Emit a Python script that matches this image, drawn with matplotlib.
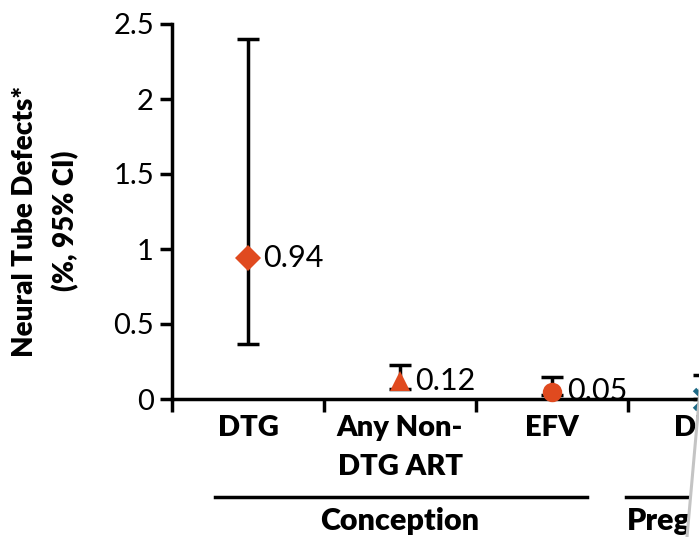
import matplotlib.pyplot as plt
import matplotlib.transforms as mtransforms
from matplotlib.lines import Line2D
from matplotlib.patches import Polygon

plt.rcParams['font.family'] = ['Lato', 'DejaVu Sans']

# data
groups = ['DTG', 'Any Non-\nDTG ART', 'EFV', 'DTG']
values = [0.94, 0.12, 0.05, 0.0]
ci_low = [0.37, 0.07, 0.03, 0.0]
ci_high = [2.4, 0.23, 0.15, 0.16]
labels = ['0.94', '0.12', '0.05', '']
markers = ['D', '^', 'o', 'x']
colors = ['#E04A1F', '#E04A1F', '#E04A1F', '#1D6A86']
periods = ['Conception', 'Pregnancy']

W, H = 699, 537
fig = plt.figure(figsize=(W / 100, H / 100), dpi=100)
cat_w = 152.0
ax = fig.add_axes([172 / W, 138 / H, (W - 172) / W, 375 / H])
ax.set_xlim(0, (W - 172) / cat_w)
ax.set_ylim(0, 2.5)

xs = [i + 0.5 for i in range(len(groups))]
for x, v, lo, hi, m, c, lab in zip(xs, values, ci_low, ci_high, markers, colors, labels):
    ax.errorbar(x, v, yerr=[[v - lo], [hi - v]], fmt='none', ecolor='black',
                elinewidth=2.5, capsize=8, capthick=2.5, zorder=2, clip_on=False)
    ms = {'D': 13, '^': 15, 'o': 14, 'x': 14}[m]
    ax.plot(x, v, marker=m, color=c, markersize=ms, mew=3.5 if m == 'x' else 0,
            linestyle='none', zorder=3, clip_on=False)
    if lab:
        ax.text(x + 0.1, v, lab, fontsize=22, va='center', ha='left')

for s in ['top', 'right']:
    ax.spines[s].set_visible(False)
for s in ['left', 'bottom']:
    ax.spines[s].set_linewidth(2.5)

ax.set_yticks([0, 0.5, 1, 1.5, 2, 2.5])
ax.set_yticklabels(['0', '0.5', '1', '1.5', '2', '2.5'])
ax.set_xticks(range(len(groups)))
ax.set_xticklabels([])
ax.tick_params(axis='y', labelsize=21, length=9, width=2.5, pad=4)
ax.tick_params(axis='x', length=9, width=2.5, direction='out')

ax.set_ylabel('Neural Tube Defects*\n(%, 95% CI)', fontsize=20, fontweight='heavy',
              linespacing=1.6)
ax.yaxis.set_label_coords((79 - 172) / (W - 172), (399 - 221) / 375)

tr = mtransforms.blended_transform_factory(ax.transData, fig.transFigure)
for x, g in zip(xs, groups):
    ax.text(x, (H - 415) / H, g, transform=tr, ha='center', va='top', fontsize=21,
            fontweight='heavy', linespacing=1.6, clip_on=False)

# period brackets
line_y = (H - 497) / H
fig.add_artist(Line2D([0.283, 2.73], [line_y, line_y], transform=tr, color='black', lw=2.5))
fig.add_artist(Line2D([2.99, 4.0], [line_y, line_y], transform=tr, color='black', lw=2.5))
ax.text(1.5, (H - 521) / H, periods[0], transform=tr, ha='center', va='center',
        fontsize=22, fontweight='heavy', clip_on=False)
ax.text(2.99, (H - 521) / H, periods[1], transform=tr, ha='left', va='center',
        fontsize=22, fontweight='heavy', clip_on=False)

# slide edge seen in the crop: white beyond it, grey border line
fig.add_artist(Polygon([[700 / W, (H - 390) / H], [687 / W, 0], [1, 0], [1, (H - 390) / H]],
                       closed=True, transform=fig.transFigure, facecolor='white',
                       edgecolor='none', zorder=10))
fig.add_artist(Line2D([700 / W, 687 / W], [(H - 390) / H, 0], color='#c4c4c4', lw=2.2,
                      zorder=11))

fig.savefig('out.png', dpi=100)
